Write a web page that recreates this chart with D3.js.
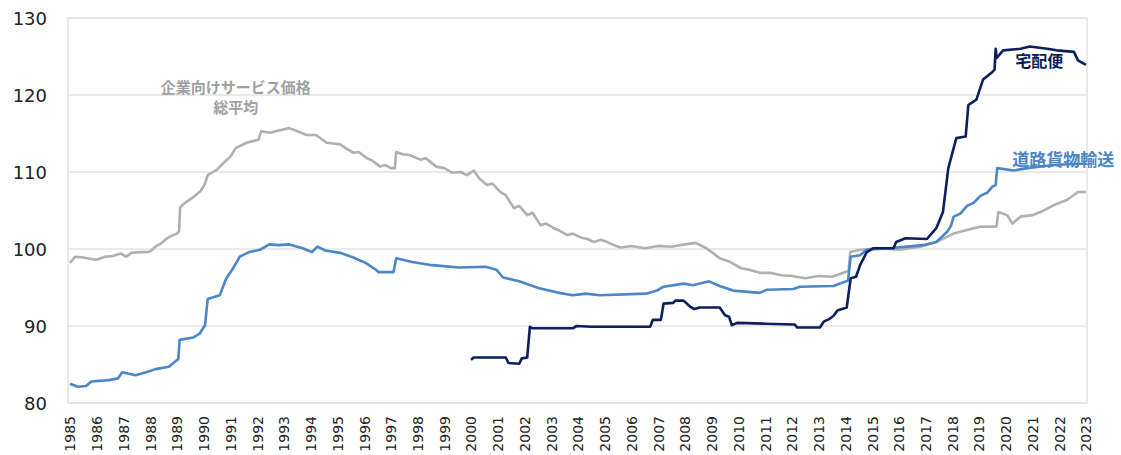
<!DOCTYPE html>
<html>
<head>
<meta charset="utf-8">
<script src="https://cdn.jsdelivr.net/npm/d3@7"></script>
<style>
  body { margin: 0; background: #fff; }
  .axis text { font-family: "DejaVu Sans", Verdana, sans-serif; fill: #222; }
  .label { font-family: "Noto Sans CJK JP", sans-serif; font-weight: bold; }
</style>
</head>
<body>
<div id="chart"></div>
<script>
// year labels and y ticks
const years = d3.range(1985, 2024);
const yTicks = [80, 90, 100, 110, 120, 130];

// 企業向けサービス価格 総平均  [year, index]
const totalSeries = [
  [1985.0, 98.2], [1985.2, 99.0], [1985.5, 98.9], [1985.8, 98.7], [1986.0, 98.6], [1986.3, 99.0],
  [1986.6, 99.1], [1986.9, 99.4], [1987.1, 99.0], [1987.3, 99.5], [1987.6, 99.6], [1987.9, 99.6],
  [1988.0, 99.7], [1988.2, 100.3], [1988.4, 100.7], [1988.6, 101.3], [1988.8, 101.7], [1989.0, 102.0],
  [1989.08, 102.3], [1989.12, 105.4], [1989.3, 106.0], [1989.6, 106.7], [1989.9, 107.6], [1990.05, 108.5],
  [1990.15, 109.6], [1990.5, 110.3], [1990.75, 111.2], [1991.0, 112.0], [1991.2, 113.1], [1991.6, 113.8],
  [1992.05, 114.2], [1992.15, 115.3], [1992.5, 115.1], [1992.8, 115.4], [1993.2, 115.7], [1993.5, 115.3],
  [1993.85, 114.8], [1994.2, 114.8], [1994.6, 113.8], [1995.1, 113.6], [1995.35, 113.0], [1995.6, 112.5],
  [1995.8, 112.6], [1996.1, 111.8], [1996.3, 111.5], [1996.6, 110.7], [1996.8, 110.9], [1997.0, 110.5],
  [1997.15, 110.5], [1997.2, 112.6], [1997.45, 112.3], [1997.7, 112.2], [1998.1, 111.6], [1998.3, 111.8],
  [1998.7, 110.7], [1999.0, 110.5], [1999.3, 109.9], [1999.6, 110.0], [1999.85, 109.6], [2000.1, 110.2],
  [2000.3, 109.2], [2000.6, 108.3], [2000.8, 108.5], [2001.1, 107.4], [2001.3, 107.0], [2001.6, 105.3],
  [2001.8, 105.6], [2002.1, 104.4], [2002.3, 104.7], [2002.6, 103.1], [2002.8, 103.3], [2003.1, 102.7],
  [2003.3, 102.4], [2003.6, 101.8], [2003.8, 102.0], [2004.1, 101.5], [2004.35, 101.3], [2004.6, 100.9],
  [2004.85, 101.2], [2005.1, 100.9], [2005.35, 100.5], [2005.6, 100.2], [2006.0, 100.4], [2006.5, 100.1],
  [2007.0, 100.4], [2007.5, 100.3], [2008.0, 100.6], [2008.4, 100.8], [2008.8, 100.1], [2009.0, 99.6],
  [2009.3, 98.8], [2009.7, 98.3], [2010.1, 97.5], [2010.4, 97.3], [2010.8, 96.9], [2011.2, 96.9],
  [2011.6, 96.6], [2012.0, 96.5], [2012.5, 96.2], [2013.0, 96.5], [2013.5, 96.4], [2014.0, 97.0],
  [2014.12, 97.1], [2014.18, 99.6], [2014.55, 99.9], [2015.3, 100.1], [2016.0, 99.9], [2016.8, 100.3],
  [2017.4, 100.9], [2018.05, 102.0], [2018.8, 102.7], [2019.05, 102.9], [2019.55, 102.9], [2019.65, 102.9],
  [2019.72, 104.8], [2020.05, 104.4], [2020.25, 103.3], [2020.55, 104.2], [2021.0, 104.4], [2021.3, 104.8],
  [2021.8, 105.7], [2022.3, 106.4], [2022.7, 107.4], [2023.0, 107.4]
];

// 道路貨物輸送
const roadSeries = [
  [1985.0, 82.5], [1985.3, 82.1], [1985.6, 82.2], [1985.8, 82.8], [1986.2, 82.9], [1986.5, 83.0],
  [1986.8, 83.2], [1986.95, 84.0], [1987.2, 83.8], [1987.45, 83.6], [1987.85, 84.0], [1988.2, 84.4],
  [1988.7, 84.7], [1988.9, 85.3], [1989.05, 85.7], [1989.1, 88.2], [1989.6, 88.5], [1989.85, 89.0],
  [1990.05, 90.1], [1990.15, 93.5], [1990.6, 94.0], [1990.85, 96.2], [1991.1, 97.5], [1991.35, 99.0],
  [1991.7, 99.6], [1992.1, 99.9], [1992.45, 100.6], [1992.8, 100.5], [1993.2, 100.6], [1993.7, 100.1],
  [1994.05, 99.6], [1994.25, 100.3], [1994.55, 99.8], [1995.1, 99.5], [1995.6, 98.9], [1996.05, 98.2],
  [1996.4, 97.4], [1996.55, 97.0], [1997.1, 97.0], [1997.2, 98.8], [1997.8, 98.3], [1998.55, 97.9],
  [1999.55, 97.6], [2000.55, 97.7], [2000.95, 97.3], [2001.2, 96.3], [2001.8, 95.8], [2002.55, 94.9],
  [2003.3, 94.3], [2003.8, 94.0], [2004.3, 94.2], [2004.8, 94.0], [2006.55, 94.2], [2006.95, 94.6],
  [2007.2, 95.1], [2007.95, 95.5], [2008.3, 95.3], [2008.9, 95.8], [2009.3, 95.2], [2009.8, 94.6],
  [2010.8, 94.3], [2011.05, 94.7], [2012.05, 94.8], [2012.3, 95.1], [2013.55, 95.2], [2013.95, 95.7],
  [2014.1, 95.9], [2014.2, 99.0], [2014.55, 99.2], [2014.8, 99.9], [2015.65, 100.1], [2016.9, 100.5],
  [2017.4, 100.9], [2017.8, 102.2], [2017.95, 103.0], [2018.05, 104.2], [2018.3, 104.6], [2018.55, 105.6],
  [2018.8, 106.0], [2019.05, 106.9], [2019.3, 107.3], [2019.5, 108.1], [2019.62, 108.3], [2019.68, 110.5],
  [2020.3, 110.2], [2020.8, 110.5], [2021.8, 110.9], [2023.0, 111.1]
];

// 宅配便
const deliverySeries = [
  [2000.0, 85.6], [2000.1, 85.9], [2001.3, 85.9], [2001.4, 85.2], [2001.8, 85.1], [2001.9, 85.8],
  [2002.1, 85.9], [2002.2, 89.9], [2002.3, 89.7], [2003.8, 89.7], [2003.95, 90.0], [2004.5, 89.9],
  [2006.7, 89.9], [2006.8, 90.8], [2007.1, 90.8], [2007.2, 92.9], [2007.55, 93.0], [2007.65, 93.3],
  [2007.95, 93.3], [2008.2, 92.5], [2008.35, 92.2], [2008.55, 92.4], [2009.3, 92.4], [2009.5, 91.4],
  [2009.65, 91.2], [2009.75, 90.1], [2009.95, 90.4], [2011.0, 90.3], [2012.1, 90.2], [2012.2, 89.8],
  [2013.05, 89.8], [2013.2, 90.6], [2013.4, 90.9], [2013.55, 91.3], [2013.7, 92.0], [2014.05, 92.4],
  [2014.2, 96.2], [2014.4, 96.4], [2014.55, 97.9], [2014.8, 99.6], [2015.05, 100.1], [2015.8, 100.1],
  [2015.9, 100.9], [2016.25, 101.4], [2017.05, 101.3], [2017.4, 102.7], [2017.65, 104.8], [2017.85, 110.5],
  [2018.15, 114.4], [2018.5, 114.6], [2018.6, 118.7], [2018.9, 119.4], [2019.15, 122.0], [2019.5, 123.0],
  [2019.58, 123.3], [2019.62, 126.0], [2019.66, 124.8], [2019.9, 125.8], [2020.55, 126.0], [2020.9, 126.3],
  [2021.55, 126.0], [2021.9, 125.8], [2022.55, 125.6], [2022.7, 124.5], [2023.0, 123.9]
];

const seriesLabels = [
  {text: "企業向けサービス価格", year: 1991.2, value: 121.0, color: "#a0a0a0", size: 15},
  {text: "総平均", year: 1991.2, value: 118.3, color: "#a0a0a0", size: 15},
  {text: "宅配便", year: 2021.25, value: 124.3, color: "#0b1f5c", size: 16},
  {text: "道路貨物輸送", year: 2022.15, value: 111.6, color: "#4a86c8", size: 17}
];

const W = 1121, H = 455;
const plot = {left: 68, right: 1087, top: 18, bottom: 403};

const svg = d3.select("#chart").append("svg")
  .attr("width", W)
  .attr("height", H);

const x = d3.scaleLinear().domain([1985, 2023]).range([70, 1086]);
const y = d3.scaleLinear().domain([80, 130]).range([plot.bottom, plot.top]);

// gridlines
svg.append("g").selectAll("line")
  .data(yTicks)
  .join("line")
  .attr("x1", plot.left).attr("x2", plot.right)
  .attr("y1", d => y(d)).attr("y2", d => y(d))
  .attr("stroke", "#e3e3e3")
  .attr("stroke-width", 1.5);

// plot border
svg.append("rect")
  .attr("x", plot.left).attr("y", plot.top)
  .attr("width", plot.right - plot.left).attr("height", plot.bottom - plot.top)
  .attr("fill", "none")
  .attr("stroke", "#e3e3e3")
  .attr("stroke-width", 1.5);

// y axis
const yAxis = d3.axisLeft(y).tickValues(yTicks).tickSize(0).tickPadding(0);
svg.append("g")
  .attr("class", "axis")
  .attr("transform", "translate(47,0)")
  .call(yAxis)
  .call(g => g.select(".domain").remove())
  .selectAll("text")
  .attr("font-size", 18)
  .attr("dy", "0.35em");

// x axis
const xAxis = d3.axisBottom(x).tickValues(years).tickFormat(d => d).tickSize(0);
svg.append("g")
  .attr("class", "axis")
  .attr("transform", "translate(0," + plot.bottom + ")")
  .call(xAxis)
  .call(g => g.select(".domain").remove())
  .selectAll("text")
  .attr("font-size", 14)
  .attr("text-anchor", "end")
  .attr("transform", "rotate(-90)")
  .attr("x", -13)
  .attr("y", 0)
  .attr("dy", "0.35em");

const line = d3.line()
  .x(d => x(d[0]))
  .y(d => y(d[1]));

const lines = [
  {data: totalSeries, color: "#b0b0b0"},
  {data: roadSeries, color: "#4a86c8"},
  {data: deliverySeries, color: "#0b1f5c"}
];

svg.append("g").selectAll("path")
  .data(lines)
  .join("path")
  .attr("fill", "none")
  .attr("stroke", d => d.color)
  .attr("stroke-width", 2.6)
  .attr("stroke-linejoin", "round")
  .attr("d", d => line(d.data));

svg.append("g").selectAll("text")
  .data(seriesLabels)
  .join("text")
  .attr("class", "label")
  .attr("x", d => x(d.year))
  .attr("y", d => y(d.value))
  .attr("text-anchor", "middle")
  .attr("dy", "0.35em")
  .attr("font-size", d => d.size)
  .attr("fill", d => d.color)
  .text(d => d.text);
</script>
</body>
</html>
